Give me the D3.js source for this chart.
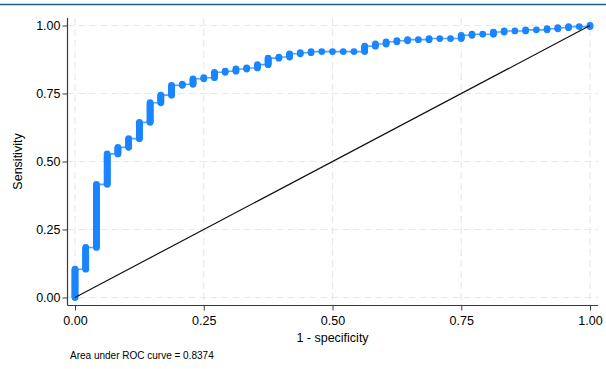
<!DOCTYPE html>
<html>
<head>
<meta charset="utf-8">
<script src="https://cdn.jsdelivr.net/npm/d3@7"></script>
<style>
  html, body { margin: 0; padding: 0; background: #ffffff; }
  svg { display: block; }
  text { font-family: "Liberation Sans", Arial, Helvetica, sans-serif; fill: #000; }
</style>
</head>
<body>
<svg id="chart" width="606" height="369"></svg>
<script>
// ---- data ----
const nNegatives = 48;       // steps along 1 - specificity
const nPositives = 250;      // steps along sensitivity
// cumulative true-positive count reached at each false-positive step (0..48)
const tpAtStep = [26,46,104,132,138,146,161,179,186,195,
                  196,201,202,207,208,210,211,214,220,221,
                  224,225,226,226,226,226,226,231,233,235,
                  236,237,237,238,238,238,241,242,242,244,
                  245,245,246,246,247,248,249,249,250];
const xTicks = [0, 0.25, 0.5, 0.75, 1];
const yTicks = [0, 0.25, 0.5, 0.75, 1];
const xTitle = "1 - specificity";
const yTitle = "Sensitivity";
const note = "Area under ROC curve = 0.8374";

// ROC points: one per observation step
const rocPoints = [];
let prev = 0;
tpAtStep.forEach((tp, i) => {
  for (let k = prev; k <= tp; k++) rocPoints.push([i / nNegatives, k / nPositives]);
  prev = tp;
});

const svg = d3.select("#chart");
const x = d3.scaleLinear().domain([0, 1]).range([75, 590]);
const y = d3.scaleLinear().domain([0, 1]).range([297.5, 25.5]);
const plotL = 67.5, plotR = 598, plotT = 18, plotB = 305.5;
const blue = "#1a85ff";

// top rule
svg.append("line").attr("x1", 0).attr("x2", 606).attr("y1", 4.5).attr("y2", 4.5)
  .attr("stroke", "#1b5d97").attr("stroke-width", 1.5);

// grid
const grid = svg.append("g").attr("stroke", "#e9e9e9").attr("stroke-width", 1.2)
  .attr("stroke-dasharray", "7,4");
grid.selectAll(".hg").data(yTicks).join("line")
  .attr("x1", plotL).attr("x2", plotR)
  .attr("y1", d => y(d)).attr("y2", d => y(d));
grid.selectAll(".vg").data(xTicks).join("line")
  .attr("y1", plotT).attr("y2", plotB)
  .attr("x1", d => x(d)).attr("x2", d => x(d));

// axes
const fmt = d3.format(".2f");
const gx = svg.append("g").attr("transform", `translate(0,${plotB})`)
  .call(d3.axisBottom(x).tickValues(xTicks).tickFormat(fmt).tickSize(5).tickPadding(6));
const gy = svg.append("g").attr("transform", `translate(${plotL},0)`)
  .call(d3.axisLeft(y).tickValues(yTicks).tickFormat(fmt).tickSize(5).tickPadding(2));
[gx, gy].forEach(g => {
  g.select(".domain").remove();
  g.selectAll(".tick line").attr("stroke", "#3a3a3a");
  g.selectAll(".tick text").attr("font-size", 12.5).attr("fill", "#000")
    .attr("font-family", '"Liberation Sans", Arial, sans-serif');
});
svg.append("line").attr("x1", plotL).attr("x2", plotR).attr("y1", plotB).attr("y2", plotB)
  .attr("stroke", "#3a3a3a").attr("stroke-width", 1.2);
svg.append("line").attr("x1", plotL).attr("x2", plotL).attr("y1", plotT).attr("y2", plotB)
  .attr("stroke", "#3a3a3a").attr("stroke-width", 1.2);

// ROC connecting line
svg.append("path").datum(rocPoints)
  .attr("d", d3.line().x(d => x(d[0])).y(d => y(d[1])))
  .attr("fill", "none").attr("stroke", blue).attr("stroke-opacity", 0.75).attr("stroke-width", 1.6);
// markers
svg.append("g").selectAll("circle").data(rocPoints).join("circle")
  .attr("cx", d => x(d[0])).attr("cy", d => y(d[1])).attr("r", 3.4)
  .attr("fill", blue);

// reference diagonal
svg.append("line")
  .attr("x1", x(0)).attr("y1", y(0)).attr("x2", x(1)).attr("y2", y(1))
  .attr("stroke", "#111").attr("stroke-width", 1.2);

// titles
svg.append("text").attr("x", (x(0) + x(1)) / 2).attr("y", 342)
  .attr("text-anchor", "middle").attr("font-size", 12.5).text(xTitle);
svg.append("text").attr("transform", `translate(22,${(y(0) + y(1)) / 2}) rotate(-90)`)
  .attr("text-anchor", "middle").attr("font-size", 12.5).text(yTitle);
svg.append("text").attr("x", 70).attr("y", 358.5).attr("font-size", 10).text(note);
</script>
</body>
</html>
